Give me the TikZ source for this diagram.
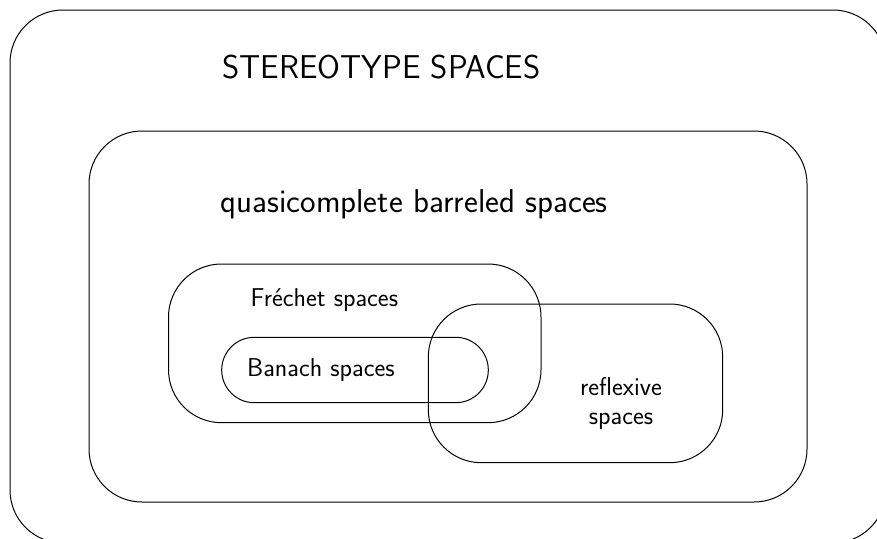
\documentclass[tikz,border=0pt]{standalone}
\usepackage{fontspec}
\begin{document}
\begin{tikzpicture}[x=1pt,y=-1pt,
  set/.style={draw=black,line width=1pt},
  bigtxt/.style={font=\sffamily\fontsize{33}{39}\selectfont,inner sep=0pt},
  smalltxt/.style={font=\sffamily\fontsize{25.8}{29}\selectfont,inner sep=0pt}]
\useasboundingbox (0,0) rectangle (877,538);
\clip (0,0) rectangle (877,538);
% outer: stereotype spaces
\draw[set,rounded corners=53pt] (10,10) rectangle (886,543);
% quasicomplete barreled spaces
\draw[set,rounded corners=53pt] (89,131) rectangle (807,502);
% Frechet spaces
\draw[set,rounded corners=53pt] (168.5,264) rectangle (541,422.7);
% Banach spaces
\draw[set,rounded corners=32.6pt] (221.7,337.3) rectangle (488.3,402.7);
% reflexive spaces
\draw[set,rounded corners=53pt] (428.3,304) rectangle (722.7,462.7);
% labels
\node[bigtxt,anchor=base west] (stereo) at (222,78) {STEREOTYPE SPACES};
\node[bigtxt,anchor=base west] (quasi) at (220.5,212) {quasicomplete barreled spaces};
\node[smalltxt,anchor=base west] (frechet) at (250.5,306.5) {Fréchet spaces};
\node[smalltxt,anchor=base west] (banach) at (247,376) {Banach spaces};
\node[smalltxt,align=center] (refl) at (621,403) {reflexive\\spaces};
\end{tikzpicture}
\end{document}
